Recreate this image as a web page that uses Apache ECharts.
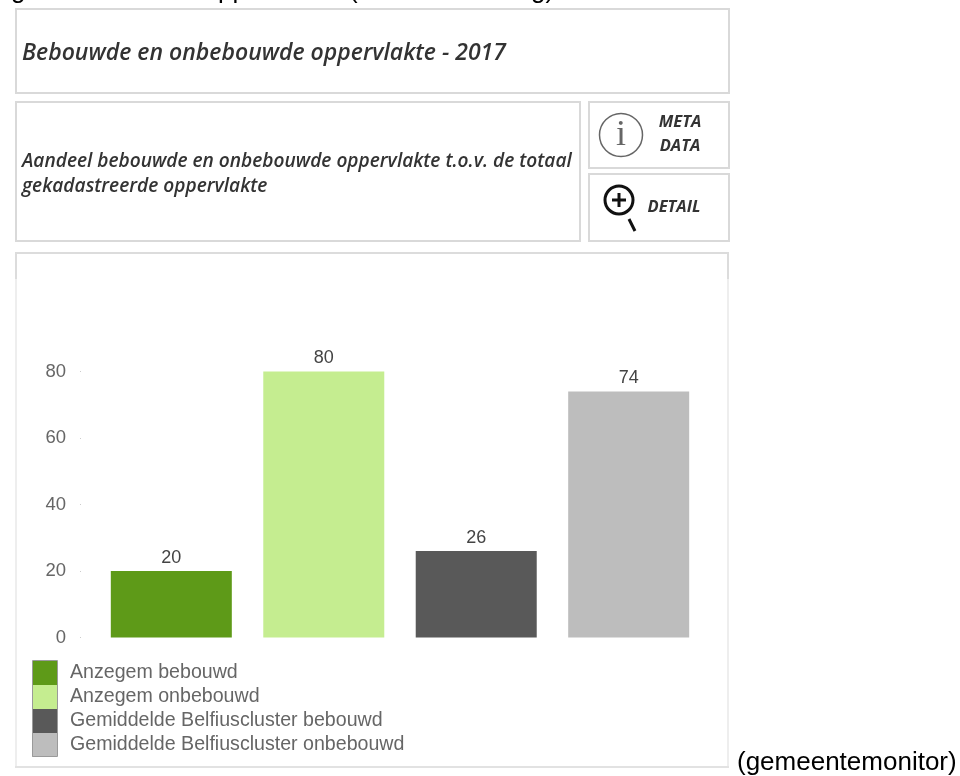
<!DOCTYPE html>
<html><head><meta charset="utf-8">
<style>html,body{margin:0;padding:0;background:#fff}#c{width:960px;height:776px}</style>
<script src="https://cdn.jsdelivr.net/npm/echarts@6/dist/echarts.min.js"></script>
</head><body><div id="c"></div>
<script>
const seriesNames = ['Anzegem bebouwd','Anzegem onbebouwd','Gemiddelde Belfiuscluster bebouwd','Gemiddelde Belfiuscluster onbebouwd'];
const seriesValues = [20,80,26,74];
const seriesColors = ['#5e9a18','#c5ed90','#595959','#bdbdbd'];
const yTicks = {min:0,max:80,interval:20};
const titleText = 'Bebouwde en onbebouwde oppervlakte - 2017';
const subtitleLines = ['Aandeel bebouwde en onbebouwde oppervlakte t.o.v. de totaal','gekadastreerde oppervlakte'];
const sourceText = '(gemeentemonitor)';

const UI = '"Open Sans"', AR = '"Liberation Sans"';
const box = (x,y,w,h,stroke='#d9d9d9',lw=2)=>({type:'rect',shape:{x,y,width:w,height:h},style:{fill:'none',stroke,lineWidth:lw},silent:true});
const line = (x1,y1,x2,y2,stroke,lw)=>({type:'line',shape:{x1,y1,x2,y2},style:{stroke,lineWidth:lw,lineCap:'butt'},silent:true});
const txt = (x,y,text,font,fill,align='left',size=16,weight='normal',style='normal')=>({type:'text',x,y,style:{text,fontFamily:font,fontSize:size,fontWeight:weight,fontStyle:style,fill,align,verticalAlign:'middle'},silent:true});
const graphics = [
  // cropped text of the line above the figure: only descenders visible
  {type:'text',x:11,y:-22,style:{text:'g',fontFamily:AR,fontSize:26,fill:'#000',verticalAlign:'top'},silent:true},
  {type:'text',x:218,y:-22,style:{text:'pp',fontFamily:AR,fontSize:26,fill:'#000',verticalAlign:'top'},silent:true},
  {type:'text',x:349,y:-22,style:{text:'(',fontFamily:AR,fontSize:26,fill:'#000',verticalAlign:'top'},silent:true},
  {type:'text',x:531,y:-22,style:{text:'g)',fontFamily:AR,fontSize:26,fill:'#000',verticalAlign:'top'},silent:true},
  box(16,9,713,84), box(16,102,564,139), box(589,102,140,66), box(589,174,140,67),
  line(15,253,729,253,'#dcdcdc',2),
  line(16,252,16,279,'#dcdcdc',2), line(728,252,728,279,'#dcdcdc',2),
  line(16,279,16,767,'#eeeeee',2), line(728,279,728,767,'#eeeeee',2),
  line(15,767,729,767,'#e2e2e2',2),
  txt(22,53,titleText,UI,'#333','left',23,'600','italic'),
  txt(22,162,subtitleLines[0],UI,'#333','left',19.1,'600','italic'),
  txt(22,187,subtitleLines[1],UI,'#333','left',19.1,'600','italic'),
  {type:'circle',shape:{cx:621,cy:135,r:21.5},style:{fill:'none',stroke:'#666',lineWidth:1.5},silent:true},
  txt(621,136,'i','"Liberation Serif"','#666','center',36),
  txt(680,122,'META',UI,'#333','center',16.5,'700','italic'),
  txt(680,146,'DATA',UI,'#333','center',16.5,'700','italic'),
  {type:'circle',shape:{cx:619,cy:200,r:14},style:{fill:'none',stroke:'#111',lineWidth:3},silent:true},
  line(612,200,626,200,'#111',3), line(619,193,619,207,'#111',3),
  line(629,219,635,231,'#111',3),
  txt(674,207,'DETAIL',UI,'#333','center',16.5,'700','italic'),
  {type:'rect',z:10,shape:{x:32.5,y:660.5,width:25,height:96},style:{fill:'none',stroke:'#9a9a9a',lineWidth:1},silent:true},
  txt(737,763,sourceText,AR,'#000','left',26)
];

const chart = echarts.init(document.getElementById('c'),null,{renderer:'canvas'});
chart.setOption({
  animation:false,
  backgroundColor:'#fff',
  grid:{left:95,right:255,top:371.5,bottom:138.5},
  xAxis:{type:'category',data:[''],axisLine:{show:false},axisTick:{show:false},axisLabel:{show:false}},
  yAxis:{type:'value',min:yTicks.min,max:yTicks.max,interval:yTicks.interval,offset:14,
    splitLine:{show:false},axisLine:{show:false},
    axisTick:{show:true,length:1,lineStyle:{color:'#ccc'}},
    axisLabel:{margin:15,fontFamily:AR,fontSize:18.5,color:'#666',padding:[2,0,0,0]}},
  legend:{show:true,orient:'vertical',left:32,top:661,itemWidth:25,itemHeight:24,itemGap:0,
    icon:'rect',selectedMode:false,padding:0,
    textStyle:{fontFamily:AR,fontSize:19.6,color:'#666',padding:[2,0,0,8]},
    data:seriesNames},
  series:seriesNames.map((n,i)=>({
    name:n,type:'bar',barWidth:121,barGap:'26%',
    data:[seriesValues[i]],
    itemStyle:{color:seriesColors[i]},
    label:{show:true,position:'top',distance:4,fontFamily:AR,fontSize:18,color:'#444'}
  })),
  graphic:graphics
});
</script></body></html>
